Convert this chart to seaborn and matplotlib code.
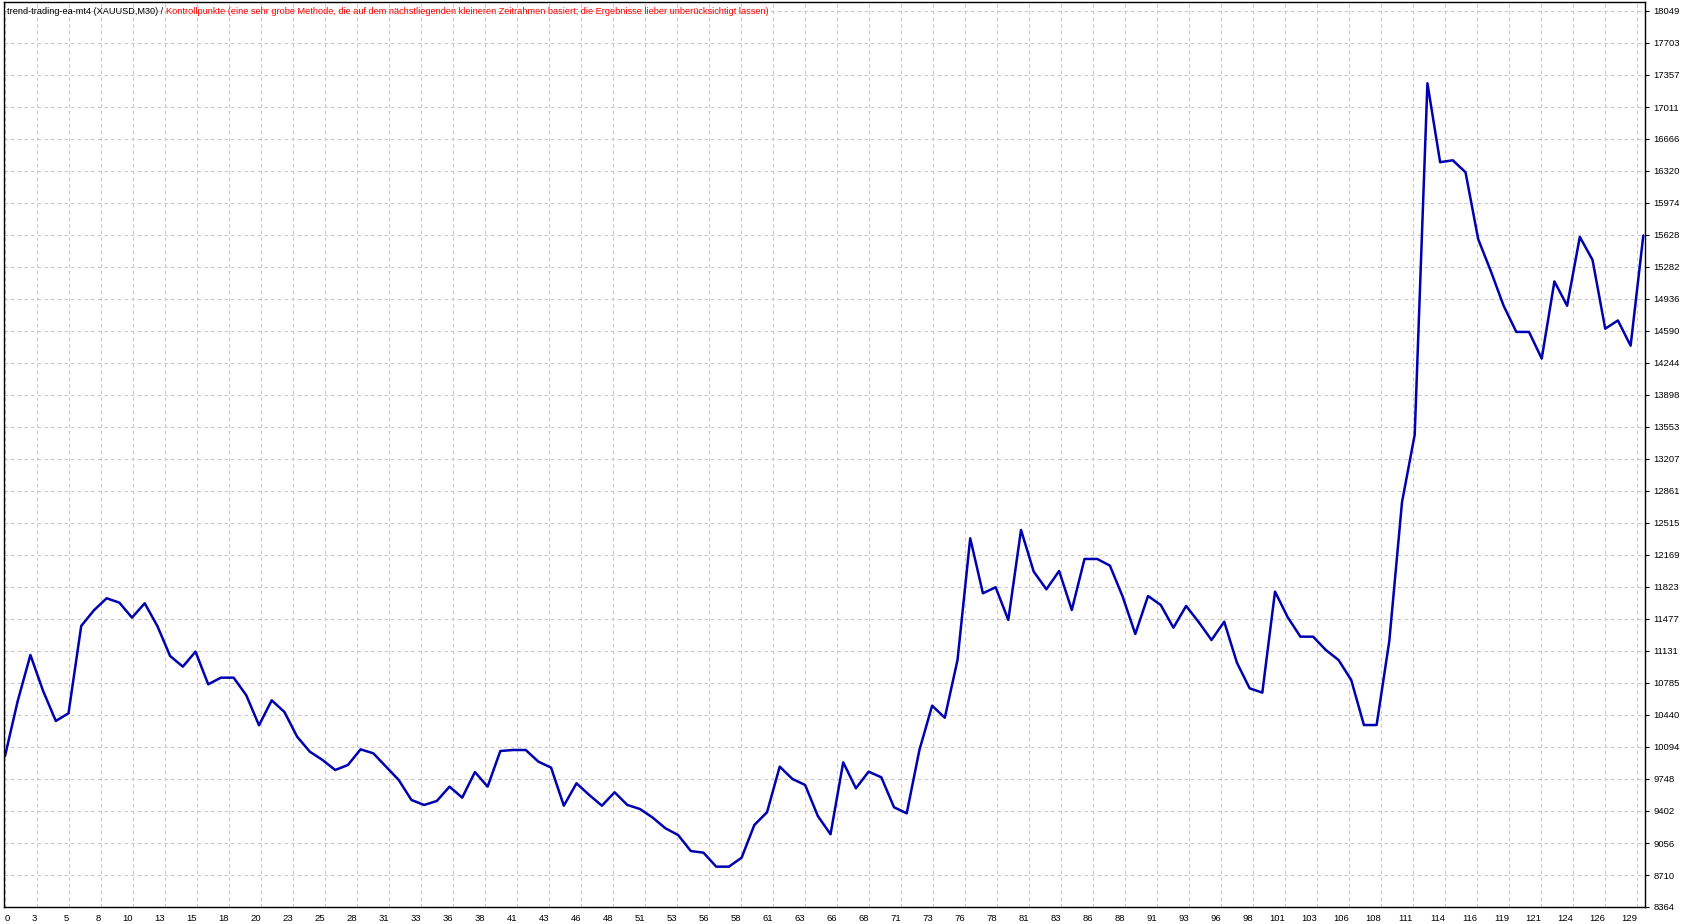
import numpy as np
import pandas as pd
import matplotlib
matplotlib.use("Agg")
import matplotlib.pyplot as plt
import seaborn as sns

# Balance curve (one value per trade)
balance = [
    9996, 10591, 11088, 10699, 10375, 10458, 11402, 11571, 11701, 11654,
    11492, 11647, 11400, 11077, 10962, 11124, 10771, 10843, 10843, 10652,
    10328, 10598, 10472, 10205, 10043, 9953, 9845, 9899, 10068, 10025,
    9881, 9737, 9521, 9467, 9510, 9665, 9546, 9823, 9665, 10050,
    10061, 10061, 9935, 9870, 9459, 9701, 9575, 9459, 9604, 9467,
    9423, 9330, 9215, 9142, 8969, 8951, 8800, 8800, 8897, 9250,
    9388, 9881, 9748, 9683, 9348, 9150, 9928, 9647, 9827, 9766,
    9442, 9377, 10061, 10540, 10410, 11034, 12350, 11755, 11820, 11467,
    12440, 11989, 11798, 11996, 11575, 12126, 12126, 12054, 11720, 11315,
    11726, 11629, 11383, 11618, 11442, 11250, 11448, 11005, 10728, 10681,
    11773, 11496, 11286, 11286, 11142, 11034, 10818, 10331, 10331, 11240,
    12740, 13470, 17268, 16415, 16435, 16306, 15582, 15235, 14863, 14580,
    14580, 14292, 15126, 14863, 15607, 15359, 14615, 14704, 14431, 15622,
]

x_labels = ["0", "3", "5", "8", "10", "13", "15", "18", "20", "23", "25", "28",
            "31", "33", "36", "38", "41", "43", "46", "48", "51", "53", "56",
            "58", "61", "63", "66", "68", "71", "73", "76", "78", "81", "83",
            "86", "88", "91", "93", "96", "98", "101", "103", "106", "108",
            "111", "114", "116", "119", "121", "124", "126", "129"]

y_labels = ["8364", "8710", "9056", "9402", "9748", "10094", "10440", "10785",
            "11131", "11477", "11823", "12169", "12515", "12861", "13207",
            "13553", "13898", "14244", "14590", "14936", "15282", "15628",
            "15974", "16320", "16666", "17011", "17357", "17703", "18049"]

title_black = "trend-trading-ea-mt4 (XAUUSD,M30) / "
title_red = ("Kontrollpunkte (eine sehr grobe Methode, die auf dem nächstliegenden "
             "kleineren Zeitrahmen basiert; die Ergebnisse lieber unberücksichtigt lassen)")

df = pd.DataFrame({"trade": np.arange(len(balance)), "balance": balance})

sns.set_style("white")
plt.rcParams["font.family"] = ["Liberation Sans", "DejaVu Sans"]
fs = 6.8
fs_title = 6.55

fig = plt.figure(figsize=(16.9, 9.24), dpi=100)
ax = fig.add_axes([4 / 1690, 17 / 924, 1641 / 1690, 905 / 924])

sns.lineplot(data=df, x="trade", y="balance", ax=ax, color="#0000b0", linewidth=1.8)

# grid steps as in the tester window
x_step = 32 / 12.7
y_vals = [float(v) for v in y_labels]
y_step = (y_vals[-1] - y_vals[0]) / (len(y_vals) - 1)

ax.set_xlim(-0.08, -0.08 + 1641 / 12.7)
ax.set_ylim(y_vals[0], y_vals[0] + 905 / 32 * y_step)

ax.set_xticks(np.arange(len(x_labels)) * x_step)
ax.set_xticklabels(x_labels)
for i, lab in enumerate(ax.get_xticklabels()):
    lab.set_ha("left" if i == 0 else "right")
ax.set_yticks(np.linspace(y_vals[0], y_vals[-1], len(y_vals)))
ax.set_yticklabels(y_labels)

ax.yaxis.tick_right()
ax.tick_params(axis="both", labelsize=fs, colors="black", length=3, width=0.8,
               direction="out", pad=2)
ax.tick_params(axis="y", pad=3)

ax.grid(True, color="#c8c8c8", linestyle=(0, (3, 3)), linewidth=0.8)
for s in ax.spines.values():
    s.set_color("black")
    s.set_linewidth(1.0)
    s.set_visible(True)

ax.set_xlabel("")
ax.set_ylabel("")

t = ax.text(0.002, 0.994, title_black, transform=ax.transAxes, fontsize=fs_title,
            color="black", va="top", ha="left")
fig.canvas.draw()
bb = t.get_window_extent().transformed(ax.transAxes.inverted())
ax.text(bb.x1, 0.994, title_red, transform=ax.transAxes, fontsize=fs_title,
        color="#ff0000", va="top", ha="left")

plt.savefig("out.png", dpi=100)
plt.close()
